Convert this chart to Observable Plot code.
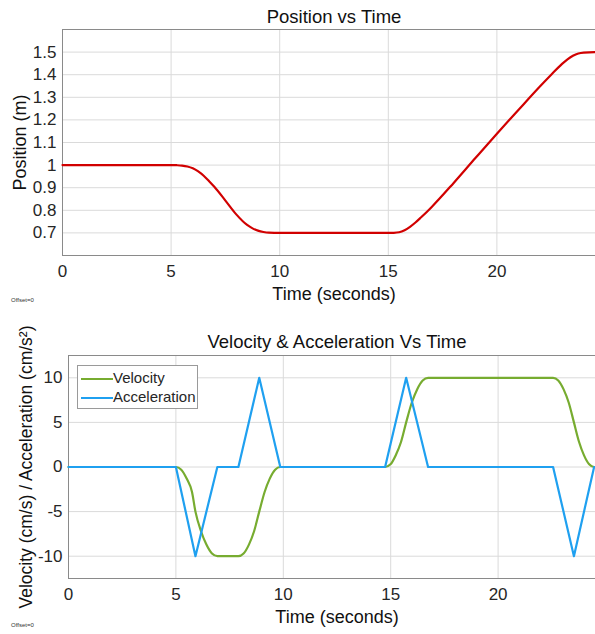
<!DOCTYPE html>
<html>
<head>
<meta charset="utf-8">
<script src="https://cdn.jsdelivr.net/npm/d3@7"></script>
<script src="https://cdn.jsdelivr.net/npm/@observablehq/plot@0.6"></script>
<style>
  html, body { margin: 0; padding: 0; background: white; overflow: hidden; }
  #wrap { position: relative; width: 595px; height: 634px; overflow: hidden; background: white;
          font-family: "Liberation Sans", Arial, sans-serif; color: #262626; }
  #wrap svg { max-width: none !important; }
  .abs { position: absolute; }
  .offset { position: absolute; font-size: 6px; line-height: 6px; color: #333; }
  #legend { position: absolute; left: 77px; top: 365px; width: 119px; height: 42px;
            border: 1px solid #9a9a9a; background: white; }
  .lg-line { position: absolute; left: 3px; width: 32px; height: 0; border-top: 2.2px solid; }
  .lg-text { position: absolute; left: 35px; font-size: 15px; line-height: 15px; color: #262626; }
</style>
</head>
<body>
<div id="wrap">
  <div id="top" class="abs" style="left:0;top:0"></div>
  <div id="bottom" class="abs" style="left:0;top:300px"></div>
  <div class="offset" style="left:11px;top:297px">Offset=0</div>
  <div class="offset" style="left:11px;top:622px">Offset=0</div>
  <div id="legend">
    <div class="lg-line" id="lgv" style="top:12px"></div>
    <div class="lg-text" id="lgvt" style="top:4px"></div>
    <div class="lg-line" id="lga" style="top:31px"></div>
    <div class="lg-text" id="lgat" style="top:23px"></div>
  </div>
</div>
<script>
// ---------- data ----------
const xGrid = [0, 5, 10, 15, 20, 25];
const xTicks = [0, 5, 10, 15, 20];
const posTicks = [0.7, 0.8, 0.9, 1.0, 1.1, 1.2, 1.3, 1.4, 1.5];
const vaTicks = [-10, -5, 0, 5, 10];

const posTitle = "Position vs Time";
const posYLabel = "Position (m)";
const xLabel = "Time (seconds)";
const vaTitle = "Velocity & Acceleration Vs Time";
const vaYLabel = "Velocity (cm/s) / Acceleration (cm/s²)";
const seriesNames = ["Velocity", "Acceleration"];

const posT = [0, 5, 5.25, 5.5, 5.75, 6, 6.25, 6.5, 6.75, 7, 7.5, 8, 8.5, 8.75, 9, 9.25, 9.5, 10, 15, 15.25, 15.5, 15.75, 16, 16.25, 16.5, 17, 18, 19, 20, 21, 22, 22.5, 23, 23.25, 23.5, 23.75, 24, 24.5, 25];
const posY = [1, 1, 0.9995, 0.998, 0.994, 0.986, 0.972, 0.953, 0.929, 0.903, 0.843, 0.782, 0.735, 0.72, 0.71, 0.704, 0.701, 0.7, 0.7, 0.7005, 0.703, 0.712, 0.727, 0.746, 0.768, 0.815, 0.92, 1.03, 1.139, 1.245, 1.35, 1.4, 1.448, 1.468, 1.484, 1.494, 1.498, 1.5, 1.5];

const velT = [0, 5, 5.25, 5.5, 5.75, 5.91, 6.17, 6.42, 6.68, 6.93, 7.91, 8.15, 8.4, 8.64, 8.88, 9.13, 9.37, 9.62, 9.86, 14.74, 14.99, 15.23, 15.48, 15.72, 15.98, 16.23, 16.49, 16.74, 22.56, 22.8, 23.05, 23.29, 23.53, 23.77, 24.0, 24.24, 24.47, 25];
const velY = [0, 0, -0.3, -1.3, -2.8, -5, -7.2, -8.7, -9.7, -10, -10, -9.7, -8.7, -7.2, -5, -2.8, -1.3, -0.3, 0, 0, 0.3, 1.3, 2.8, 5, 7.2, 8.7, 9.7, 10, 10, 9.7, 8.7, 7.2, 5, 2.8, 1.3, 0.3, 0, 0];

const accT = [0, 5, 5.91, 6.93, 7.91, 8.88, 9.86, 14.74, 15.72, 16.74, 22.56, 23.53, 24.47, 25];
const accY = [0, 0, -10, 0, 0, 10, 0, 0, 10, 0, 0, -10, 0, 0];

// ---------- style ----------
const colors = { pos: "#d10000", vel: "#77ac30", acc: "#1fa0f0" };
const font = "'Liberation Sans', Arial, sans-serif";
const gridStyle = { stroke: "#dadada", strokeOpacity: 1, strokeWidth: 1 };

const pos = posT.map((t, i) => ({ t, y: posY[i] }));
const vel = velT.map((t, i) => ({ t, y: velY[i] }));
const acc = accT.map((t, i) => ({ t, y: accY[i] }));

const topPlot = Plot.plot({
  width: 606, height: 310,
  marginTop: 29, marginBottom: 55, marginLeft: 62, marginRight: 1,
  style: { fontFamily: font, fontSize: "17px", color: "#262626", background: "white", maxWidth: "none" },
  x: { domain: [0, 25] },
  y: { domain: [0.6, 1.6] },
  marks: [
    Plot.gridX(xGrid, gridStyle),
    Plot.gridY(posTicks, gridStyle),
    Plot.frame({ stroke: "#8a8a8a" }),
    Plot.axisX(xTicks, { tickSize: 0, tickPadding: 9, fontSize: 17, label: null }),
    Plot.axisY(posTicks, { tickSize: 0, tickPadding: 6, fontSize: 17, label: null, tickFormat: d3.format("~g") }),
    Plot.line(pos, { x: "t", y: "y", stroke: colors.pos, strokeWidth: 2.2, curve: "monotone-x" }),
    Plot.text([posTitle], { text: d => d, frameAnchor: "top", lineAnchor: "middle", dy: -12, fontSize: 18.5, fill: "#111" }),
    Plot.text([xLabel], { text: d => d, frameAnchor: "bottom", lineAnchor: "middle", dy: 39, fontSize: 18, fill: "#111" }),
    Plot.text([posYLabel], { text: d => d, frameAnchor: "left", textAnchor: "middle", lineAnchor: "middle", dx: -42, rotate: -90, fontSize: 18, fill: "#111" })
  ]
});
document.getElementById("top").appendChild(topPlot);

const botPlot = Plot.plot({
  width: 606, height: 334,
  marginTop: 55, marginBottom: 56, marginLeft: 68, marginRight: 1,
  style: { fontFamily: font, fontSize: "17px", color: "#262626", background: "transparent", maxWidth: "none" },
  x: { domain: [0, 25] },
  y: { domain: [-12.5, 12.5] },
  marks: [
    Plot.gridX(xGrid, gridStyle),
    Plot.gridY(vaTicks, gridStyle),
    Plot.frame({ stroke: "#8a8a8a" }),
    Plot.axisX(xTicks, { tickSize: 0, tickPadding: 9, fontSize: 17, label: null }),
    Plot.axisY(vaTicks, { tickSize: 0, tickPadding: 6, fontSize: 17, label: null, tickFormat: d => String(d) }),
    Plot.line(vel, { x: "t", y: "y", stroke: colors.vel, strokeWidth: 2.2, curve: "monotone-x" }),
    Plot.line(acc, { x: "t", y: "y", stroke: colors.acc, strokeWidth: 2.2 }),
    Plot.text([vaTitle], { text: d => d, frameAnchor: "top", lineAnchor: "middle", dy: -13, fontSize: 18.5, fill: "#111" }),
    Plot.text([xLabel], { text: d => d, frameAnchor: "bottom", lineAnchor: "middle", dy: 39, fontSize: 18, fill: "#111" }),
    Plot.text([vaYLabel], { text: d => d, frameAnchor: "left", textAnchor: "middle", lineAnchor: "middle", dx: -42, rotate: -90, fontSize: 17.5, fill: "#111" })
  ]
});
document.getElementById("bottom").appendChild(botPlot);

// legend
document.getElementById("lgv").style.borderTopColor = colors.vel;
document.getElementById("lga").style.borderTopColor = colors.acc;
document.getElementById("lgvt").textContent = seriesNames[0];
document.getElementById("lgat").textContent = seriesNames[1];
</script>
</body>
</html>
